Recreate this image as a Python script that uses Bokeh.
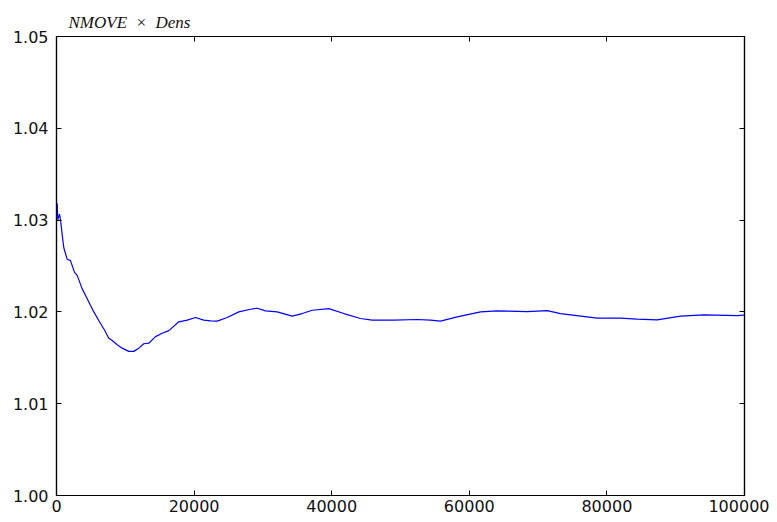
from bokeh.plotting import figure
from bokeh.models import (Range1d, FixedTicker, PrintfTickFormatter, LinearAxis)
from bokeh.embed import file_html
from bokeh.resources import INLINE

# ---- data ----
steps = [100, 190, 436, 581, 828, 1061, 1555, 2035, 2616, 3009, 3735, 4462, 5422,
         6395, 6977, 7602, 8096, 8823, 9549, 10508, 11236, 11962, 12689, 13416,
         14390, 15364, 16323, 17776, 18997, 20204, 21410, 22384, 23358, 24812,
         26497, 28198, 29171, 30378, 32079, 34259, 35713, 37166, 39579, 41759,
         44186, 45886, 49026, 52427, 54361, 55814, 58241, 61628, 64056, 68416,
         71323, 73256, 78590, 81977, 84404, 87311, 90696, 94084, 98938, 99900]
nmove_dens = [1.03183, 1.03003, 1.03065, 1.03003, 1.02842, 1.02699, 1.02573,
              1.02559, 1.02430, 1.02398, 1.02251, 1.02143, 1.02000, 1.01874,
              1.01803, 1.01713, 1.01688, 1.01642, 1.01605, 1.01570, 1.01570,
              1.01605, 1.01653, 1.01659, 1.01731, 1.01767, 1.01796, 1.01892,
              1.01911, 1.01939, 1.01911, 1.01903, 1.01900, 1.01939, 1.02000,
              1.02029, 1.02040, 1.02011, 1.02000, 1.01954, 1.01982, 1.02018,
              1.02035, 1.01982, 1.01928, 1.01911, 1.01911, 1.01917, 1.01911,
              1.01900, 1.01946, 1.02000, 1.02011, 1.02003, 1.02014, 1.01982,
              1.01932, 1.01932, 1.01922, 1.01914, 1.01954, 1.01968, 1.01960,
              1.01965]
x_ticks = [0, 20000, 40000, 60000, 80000, 100000]
y_ticks = [1.00, 1.01, 1.02, 1.03, 1.04, 1.05]
series_label = "NMOVE \u00a0\u00d7\u00a0 Dens"

p = figure(width=769, height=514, output_backend="svg", toolbar_location=None,
           x_range=Range1d(0, 100000), y_range=Range1d(1.00, 1.05),
           min_border_top=36, min_border_left=56, min_border_right=25,
           min_border_bottom=0, title=series_label)
p.background_fill_color = "white"
p.border_fill_color = "white"
p.grid.visible = False
p.outline_line_color = "black"
p.outline_line_width = 1.2

# series label shown above the frame, as in the reference
p.title.align = "left"
p.title.offset = 12
p.title.standoff = 10
p.title.text_font = "Liberation Serif"
p.title.text_font_style = "italic"
p.title.text_font_size = "17px"
p.title.text_color = "#111111"

line = p.line(steps, nmove_dens, line_color="#0000ff", line_width=1.2)

font = "DejaVu Sans"
bottom = p.below[0]
left = p.left[0]
top = LinearAxis()
right = LinearAxis()
p.add_layout(top, "above")
p.add_layout(right, "right")

for ax in [bottom, top]:
    ax.ticker = FixedTicker(ticks=x_ticks)
    ax.formatter = PrintfTickFormatter(format="%d")
for ax in [left, right]:
    ax.ticker = FixedTicker(ticks=y_ticks)
    ax.formatter = PrintfTickFormatter(format="%.2f")

for ax in [bottom, left, top, right]:
    ax.axis_line_color = "black"
    ax.axis_line_width = 1.2
    ax.major_tick_in = 5
    ax.major_tick_out = 0
    ax.major_tick_line_color = "black"
    ax.minor_tick_line_color = None
    ax.major_label_text_font = font
    ax.major_label_text_font_size = "16px"
    ax.major_label_text_color = "#111111"

top.major_label_overrides = {t: "" for t in x_ticks}
right.major_label_overrides = {t: "" for t in y_ticks}
for ax in [top, right]:
    ax.major_label_text_font_size = "1px"
    ax.major_label_standoff = 0

left.major_label_standoff = 8
bottom.major_label_standoff = 4

open("out.html", "w").write(file_html(p, INLINE))
